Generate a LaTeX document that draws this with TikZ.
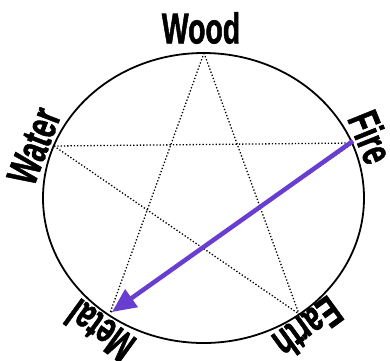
\documentclass[tikz,border=0pt]{standalone}
\usepackage{fontspec}
\setmainfont{Liberation Sans}
\newfontfamily\heavyfont{Liberation Sans Bold}[FakeBold=1.6]
\usepackage{graphicx}
\usetikzlibrary{arrows.meta}
\definecolor{arrowpurple}{RGB}{104,62,208}
\newcommand{\narrow}[1]{\scalebox{0.66}[1]{#1}}
\begin{document}
\begin{tikzpicture}[x=1pt,y=-1pt,
  lbl/.style={font=\fontsize{43}{43}\selectfont\heavyfont, inner sep=0pt},
  star/.style={dotted, line width=1.3pt},
  rim/.style={line width=1.8pt},
  bigarrow/.style={arrowpurple, line width=4.5pt, -{Triangle[length=24pt,width=21pt]}}]
\useasboundingbox (0,0) rectangle (390,360);
\coordinate (c) at (203.5,198);
\draw[rim] (c) ellipse [x radius=160.5pt, y radius=145pt];
\coordinate (wood) at (204,53);
\coordinate (water) at (54,146);
\coordinate (fire) at (353,143);
\coordinate (metal) at (110,313);
\coordinate (earth) at (299,314);
\draw[star] (wood) -- (metal);
\draw[star] (wood) -- (earth);
\draw[star] (water) -- (fire);
\draw[star] (water) -- (earth);
\draw[star] (fire) -- (metal);
\draw[bigarrow] ([yshift=2pt]fire) -- ([yshift=1pt,xshift=2pt]metal);
\node[lbl] (lwood) at (201,28) {\narrow{Wood}};
\node[lbl, rotate=69] (lwater) at (34,146) {\narrow{Water}};
\node[lbl, rotate=-68] (lfire) at (371,137) {\narrow{Fire}};
\node[lbl, rotate=144] (lmetal) at (100,331) {\narrow{Metal}};
\node[lbl, rotate=-144] (learth) at (308,328) {\narrow{Earth}};
\end{tikzpicture}
\end{document}
